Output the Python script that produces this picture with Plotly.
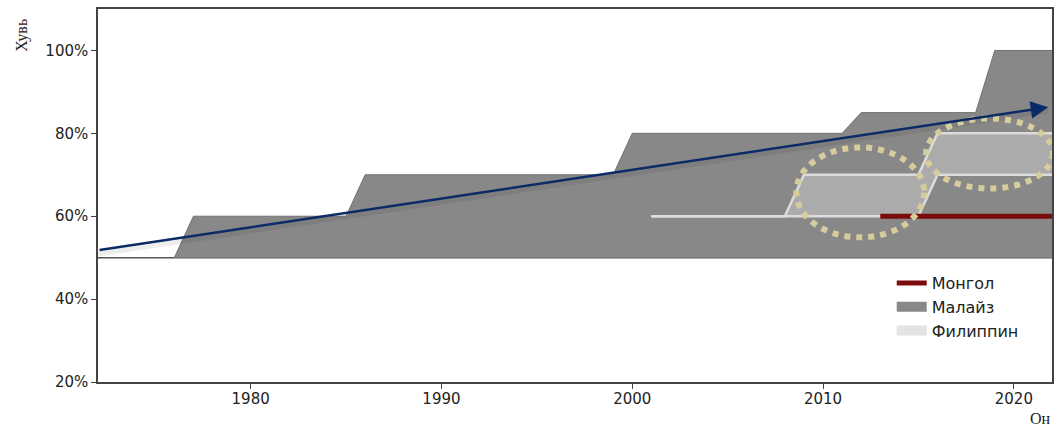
import plotly.graph_objects as go

# ---- data ----
mal_years = [1976, 1977, 1985, 1986, 1999, 2000, 2011, 2012, 2018, 2019, 2022]
mal_values = [50, 60, 60, 70, 70, 80, 80, 85, 85, 100, 100]

phl_low_years = [2001, 2015, 2016, 2022]
phl_low_values = [60, 60, 70, 70]
phl_up_years = [2001, 2008, 2009, 2015, 2016, 2022]
phl_up_values = [60, 60, 70, 70, 80, 80]

mng_years = [2013, 2022]
mng_values = [60, 60]

baseline = 50
x_range = [1972, 2022]
y_range = [20, 110]

trend_x = [1972, 2021.8]
trend_y = [51.8, 86.3]

ellipses = [
    dict(x0=2008.6, x1=2015.3, y0=54.9, y1=76.6),
    dict(x0=2015.4, x1=2022.05, y0=66.7, y1=83.6),
]

x_ticks = [1980, 1990, 2000, 2010, 2020]
y_ticks = [20, 40, 60, 80, 100]
y_tick_text = [f"{v}%" for v in y_ticks]

names = {"mng": "Монгол", "mal": "Малайз", "phl": "Филиппин"}
colors = {"mng": "#7a0c0c", "mal": "#888888", "phl_legend": "#e3e3e3"}

fig = go.Figure()

# baseline across the plot
fig.add_trace(go.Scatter(x=x_range, y=[baseline, baseline], mode="lines",
                         line=dict(color="#555555", width=1.5),
                         showlegend=False, hoverinfo="skip"))

# Malaysia area (polygon down to baseline)
mx = mal_years + mal_years[::-1]
my = mal_values + [baseline] * len(mal_years)
fig.add_trace(go.Scatter(x=mx, y=my, fill="toself", mode="none",
                         fillcolor=colors["mal"], showlegend=False, hoverinfo="skip"))
fig.add_trace(go.Scatter(x=mal_years, y=mal_values, mode="lines",
                         line=dict(color="#727272", width=1),
                         showlegend=False, hoverinfo="skip"))

# trend shadow
fig.add_trace(go.Scatter(x=trend_x, y=[v - 0.9 for v in trend_y], mode="lines",
                         line=dict(color="rgba(0,0,0,0.07)", width=5),
                         showlegend=False, hoverinfo="skip"))

# Philippines band
px = phl_up_years + phl_low_years[::-1]
py = phl_up_values + phl_low_values[::-1]
fig.add_trace(go.Scatter(x=px, y=py, fill="toself", mode="none",
                         fillcolor="rgba(215,215,215,0.45)", showlegend=False,
                         hoverinfo="skip"))
fig.add_trace(go.Scatter(x=phl_up_years, y=phl_up_values, mode="lines",
                         line=dict(color="#dcdcdc", width=2.5),
                         showlegend=False, hoverinfo="skip"))
fig.add_trace(go.Scatter(x=phl_low_years, y=phl_low_values, mode="lines",
                         line=dict(color="#dcdcdc", width=2.5),
                         showlegend=False, hoverinfo="skip"))

# Mongolia
fig.add_trace(go.Scatter(x=mng_years, y=mng_values, mode="lines",
                         line=dict(color=colors["mng"], width=5),
                         name=names["mng"], legendrank=1, hoverinfo="skip"))

# legend-only swatches
fig.add_trace(go.Scatter(x=[None], y=[None], mode="lines",
                         line=dict(color=colors["mal"], width=11),
                         name=names["mal"], legendrank=2))
fig.add_trace(go.Scatter(x=[None], y=[None], mode="lines",
                         line=dict(color=colors["phl_legend"], width=11),
                         name=names["phl"], legendrank=3))

# ellipses
for e in ellipses:
    fig.add_shape(type="circle", xref="x", yref="y", layer="above",
                  x0=e["x0"], x1=e["x1"], y0=e["y0"], y1=e["y1"],
                  line=dict(color="#d6cc9c", width=6, dash="6px,6px"))

# trend arrow
fig.add_annotation(x=trend_x[1], y=trend_y[1], ax=trend_x[0], ay=trend_y[0],
                   xref="x", yref="y", axref="x", ayref="y", text="",
                   showarrow=True, arrowhead=2, arrowsize=1.4, arrowwidth=2.5,
                   arrowcolor="#0b2a66")

# axis titles
fig.add_annotation(text="Хувь", xref="paper", yref="paper", x=-0.08, y=0.93,
                   textangle=-90, showarrow=False, xanchor="center", yanchor="middle",
                   font=dict(family="Liberation Serif", size=16, color="#222222"))
fig.add_annotation(text="Он", xref="paper", yref="paper", x=0.988, y=-0.097,
                   showarrow=False, xanchor="center", yanchor="middle",
                   font=dict(family="Liberation Serif", size=16, color="#222222"))

fig.update_layout(
    width=1058, height=427,
    margin=dict(l=98, r=4, t=9, b=45),
    paper_bgcolor="white", plot_bgcolor="white",
    font=dict(family="DejaVu Sans", size=15, color="#222222"),
    legend=dict(x=0.832, y=0.311, xanchor="left", yanchor="top",
                bgcolor="rgba(0,0,0,0)", font=dict(size=16, color="#222222"),
                tracegroupgap=0),
    xaxis=dict(range=x_range, tickvals=x_ticks, showgrid=False, zeroline=False,
               showline=True, linecolor="#444444", linewidth=1.5, mirror=True,
               ticks="outside", ticklen=5, tickcolor="#444444",
               ticklabelstandoff=-3),
    yaxis=dict(range=y_range, tickvals=y_ticks, ticktext=y_tick_text,
               showgrid=False, zeroline=False,
               showline=True, linecolor="#444444", linewidth=1.5, mirror=True,
               ticks="outside", ticklen=5, tickcolor="#444444"),
)

fig.write_html("out.html", config={"displayModeBar": False},
               post_script="document.body.style.margin='0';document.body.style.padding='0';")
